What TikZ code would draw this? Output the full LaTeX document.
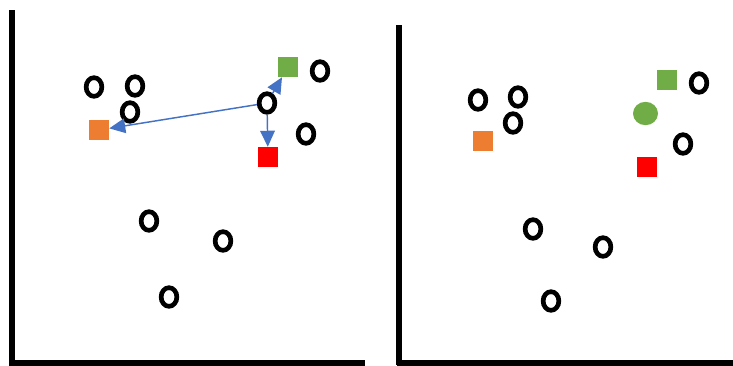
\documentclass[tikz,border=0pt]{standalone}
\usetikzlibrary{shapes.geometric,arrows.meta}
\definecolor{mygreen}{HTML}{70AD47}
\definecolor{myorange}{HTML}{ED7D31}
\definecolor{myred}{HTML}{FF0000}
\definecolor{myblue}{HTML}{4472C4}
\begin{document}
\begin{tikzpicture}[x=0.75pt,y=-0.75pt,
  pt/.style={ellipse,draw=black,line width=3.5pt,minimum width=11.8pt,minimum height=14pt,inner sep=0pt,fill=white},
  sq/.style={rectangle,minimum size=15pt,inner sep=0pt},
  axis/.style={line width=4.5pt,line cap=butt},
  arr/.style={myblue,line width=1.1pt,-{Triangle[length=12pt,width=11pt]}}]
\useasboundingbox (0,0) rectangle (733,365);
% axes
\coordinate (lt) at (11.5,10);
\coordinate (lo) at (11.5,362.5);
\coordinate (lr) at (365,362.5);
\coordinate (rt) at (399,25);
\coordinate (ro) at (399,362.5);
\coordinate (rr) at (733,362.5);
\draw[axis] (lt) -- (11.5,364.75);
\draw[axis] (9.25,362.5) -- (lr);
\draw[axis] (rt) -- (399,364.75);
\draw[axis] (396.75,362.5) -- (rr);
% left panel
\node[pt] (a1) at (94,87) {};
\node[pt] (a2) at (135,86) {};
\node[pt] (a3) at (130,112) {};
\node[pt] (a4) at (267,103) {};
\node[pt] (a5) at (320,71) {};
\node[pt] (a6) at (306,134) {};
\node[pt] (a7) at (149,221) {};
\node[pt] (a8) at (223,241) {};
\node[pt] (a9) at (169,297) {};
\node[sq,fill=mygreen] (ag) at (288,67) {};
\node[sq,fill=myorange] (ao) at (99,130) {};
\node[sq,fill=myred] (ar) at (268,157) {};
\draw[arr] (a4) -- (ao);
\draw[arr] (a4) -- (ag);
\draw[arr] (a4) -- (ar);
% right panel
\node[pt] (b1) at (478,100) {};
\node[pt] (b2) at (518,97) {};
\node[pt] (b3) at (513,123) {};
\node[pt] (b5) at (699,83) {};
\node[pt] (b6) at (683,144) {};
\node[pt] (b7) at (533,229) {};
\node[pt] (b8) at (603,247) {};
\node[pt] (b9) at (551,301) {};
\node[sq,fill=mygreen] (bg) at (667,80) {};
\node[ellipse,fill=mygreen,minimum width=18.75pt,minimum height=17.5pt,inner sep=0pt] (bc) at (645.5,113.5) {};
\node[sq,fill=myorange] (bo) at (483,141) {};
\node[sq,fill=myred] (br) at (647,167) {};
\end{tikzpicture}
\end{document}
